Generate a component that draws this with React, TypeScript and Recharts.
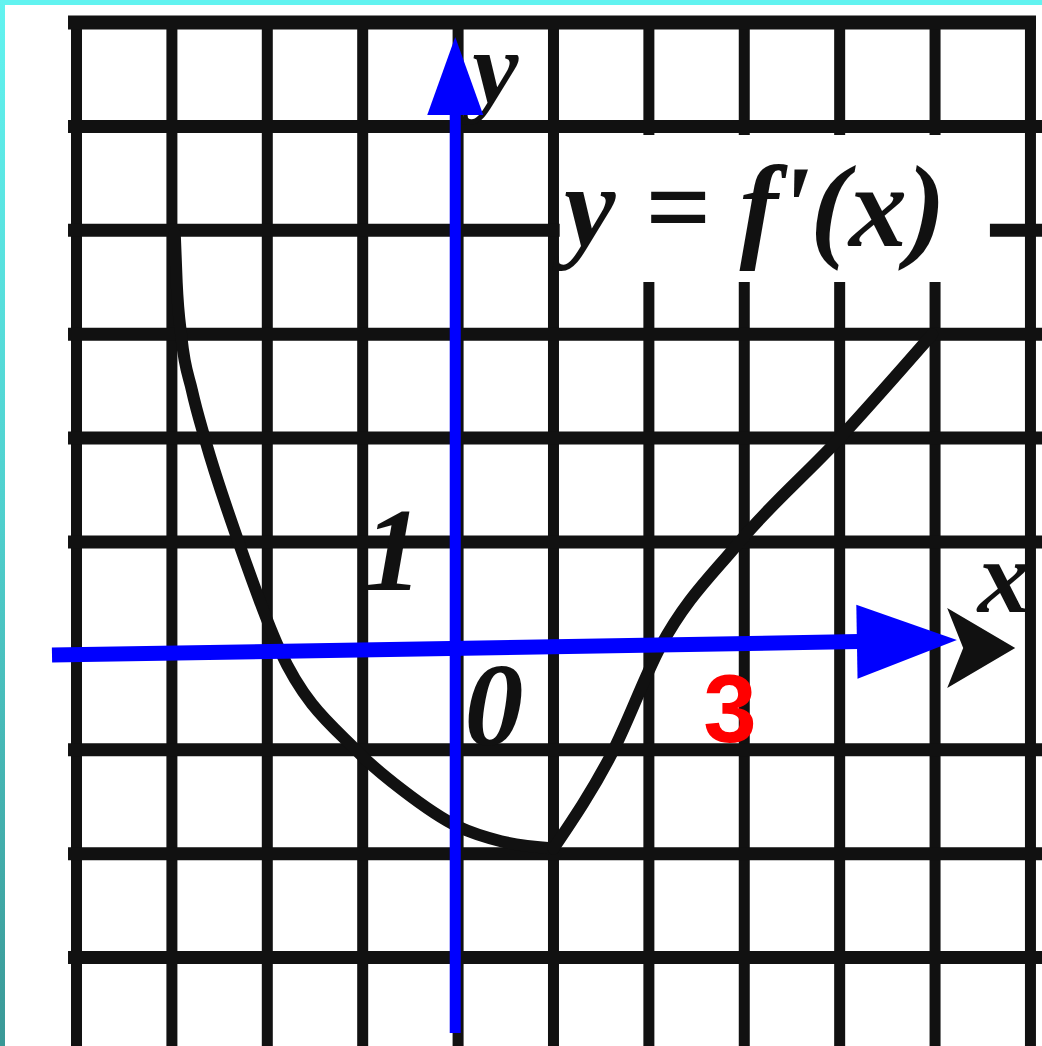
import React from 'react';
import {
  LineChart,
  Line,
  XAxis,
  YAxis,
  ReferenceLine,
  ReferenceDot,
  ReferenceArea,
} from 'recharts';

// Visible window of the coordinate plane (one grid cell = one unit)
const X_DOMAIN: [number, number] = [-4.802, 6.121];
const Y_DOMAIN: [number, number] = [-3.851, 6.217];

// Grid lines of the squared paper
const gridXs = [-4, -3, -2, -1, 0, 1, 2, 3, 4, 5, 6];
const gridYs = [5, 4, 3, 2, 1, -1, -2, -3];
const gridTopY = 6;
const gridLeftX = -4.089;
const gridRightTopX = 6.058;
const gridTopEdgeY = 6.058;

// y = f'(x): descending branch down to the minimum, then the rising branch
const leftBranch = [
  { x: -2.97, y: 3.97 },
  { x: -2.95, y: 3.5 },
  { x: -2.9, y: 2.97 },
  { x: -2.79, y: 2.46 },
  { x: -2.65, y: 1.98 },
  { x: -2.29, y: 0.97 },
  { x: -1.87, y: -0.04 },
  { x: -1.05, y: -1.02 },
  { x: -0.58, y: -1.39 },
  { x: 0, y: -1.74 },
  { x: 0.45, y: -1.88 },
  { x: 1.0, y: -1.95 },
];
const rightBranch = [
  { x: 1.0, y: -1.95 },
  { x: 1.62, y: -1.02 },
  { x: 2.12, y: -0.01 },
  { x: 2.93, y: 0.98 },
  { x: 4.0, y: 2.0 },
  { x: 4.97, y: 3.0 },
];

// Blue coordinate axes drawn over the printed ones
const blueXAxis = [{ x: -4.257, y: -0.088 }, { x: 5.229, y: 0.057 }];
const blueYAxis = [{ x: -0.03, y: -3.726 }, { x: -0.03, y: 5.861 }];

// Text labels
const formulaBox = { x1: 1.065, x2: 5.575, y1: 3.503, y2: 4.917 };
const formulaLabel = { x: 3.11, y: 3.849, text: "y = f'(x)" };
const yAxisLabel = { x: 0.39, y: 5.225, text: 'y' };
const xAxisLabel = { x: 5.72, y: 0.33, text: 'x' };
const unitLabel = { x: -0.683, y: 0.538, text: '1' };
const originLabel = { x: 0.376, y: -0.954, text: '0' };
const markLabel = { x: 2.85, y: -0.925, text: '3' };
const printedArrowTip = { x: 5.84, y: -0.02 };

const SERIF = "'Liberation Serif', 'DejaVu Serif', serif";
const SANS = "'Liberation Sans', Arial, sans-serif";

type ArrowOpts = { color: string; width: number; headLen: number; headHalf: number };

const makeArrow = (o: ArrowOpts) => (p: any) => {
  const { x1, y1, x2, y2 } = p;
  const dx = x2 - x1;
  const dy = y2 - y1;
  const len = Math.sqrt(dx * dx + dy * dy) || 1;
  const ux = dx / len;
  const uy = dy / len;
  const bx = x2 - ux * o.headLen;
  const by = y2 - uy * o.headLen;
  const nx = -uy;
  const ny = ux;
  const pts = [
    `${x2},${y2}`,
    `${bx + nx * o.headHalf},${by + ny * o.headHalf}`,
    `${bx - nx * o.headHalf},${by - ny * o.headHalf}`,
  ].join(' ');
  return (
    <g>
      <line x1={x1} y1={y1} x2={bx + ux * 2} y2={by + uy * 2} stroke={o.color} strokeWidth={o.width} />
      <polygon points={pts} fill={o.color} />
    </g>
  );
};

const makeText = (text: string, style: React.SVGProps<SVGTextElement>) => (p: any) => (
  <text x={p.cx} y={p.cy} textAnchor="middle" {...style}>
    {text}
  </text>
);

const serifItalic = {
  fontFamily: SERIF,
  fontStyle: 'italic' as const,
  fontWeight: 700,
  fill: '#111',
};

const printedArrow = (p: any) => {
  const { cx, cy } = p;
  return (
    <polygon
      points={`${cx},${cy} ${cx - 68},${cy - 40} ${cx - 52},${cy} ${cx - 68},${cy + 40}`}
      fill="#111"
    />
  );
};

export default function App() {
  return (
    <div
      style={{
        position: 'absolute',
        left: 0,
        top: 0,
        width: 1042,
        height: 1046,
        background: '#fff',
        overflow: 'hidden',
      }}
    >
      <LineChart width={1042} height={1046} margin={{ top: 0, right: 0, bottom: 0, left: 0 }}>
        <XAxis type="number" dataKey="x" domain={X_DOMAIN} allowDataOverflow hide />
        <YAxis type="number" dataKey="y" domain={Y_DOMAIN} allowDataOverflow hide />

        {gridXs.map((gx) => (
          <ReferenceLine
            key={`vx${gx}`}
            segment={[{ x: gx, y: Y_DOMAIN[0] }, { x: gx, y: gridTopEdgeY }]}
            stroke="#111"
            strokeWidth={11}
            ifOverflow="visible"
            zIndex={10}
          />
        ))}
        {gridYs.map((gy) => (
          <ReferenceLine
            key={`hy${gy}`}
            segment={[{ x: gridLeftX, y: gy }, { x: X_DOMAIN[1], y: gy }]}
            stroke="#111"
            strokeWidth={13}
            ifOverflow="visible"
            zIndex={10}
          />
        ))}
        <ReferenceLine
          segment={[{ x: gridLeftX, y: gridTopY }, { x: gridRightTopX, y: gridTopY }]}
          stroke="#111"
          strokeWidth={14}
          ifOverflow="visible"
          zIndex={10}
        />

        <ReferenceArea
          x1={formulaBox.x1}
          x2={formulaBox.x2}
          y1={formulaBox.y1}
          y2={formulaBox.y2}
          fill="#fff"
          fillOpacity={1}
          stroke="none"
          ifOverflow="visible"
          zIndex={20}
        />

        <Line
          data={leftBranch}
          dataKey="y"
          type="monotone"
          stroke="#111"
          strokeWidth={12}
          dot={false}
          activeDot={false}
          strokeLinecap="round"
          isAnimationActive={false}
          zIndex={30}
        />
        <Line
          data={rightBranch}
          dataKey="y"
          type="monotone"
          stroke="#111"
          strokeWidth={12}
          dot={false}
          activeDot={false}
          strokeLinecap="round"
          isAnimationActive={false}
          zIndex={30}
        />

        <ReferenceDot
          x={formulaLabel.x}
          y={formulaLabel.y}
          r={0}
          ifOverflow="visible"
          shape={makeText(formulaLabel.text, { ...serifItalic, fontSize: 116 })}
          zIndex={35}
        />
        <ReferenceDot
          x={yAxisLabel.x}
          y={yAxisLabel.y}
          r={0}
          ifOverflow="visible"
          shape={makeText(yAxisLabel.text, { ...serifItalic, fontSize: 104 })}
          zIndex={35}
        />
        <ReferenceDot
          x={unitLabel.x}
          y={unitLabel.y}
          r={0}
          ifOverflow="visible"
          shape={makeText(unitLabel.text, { ...serifItalic, fontSize: 118 })}
          zIndex={35}
        />
        <ReferenceDot
          x={originLabel.x}
          y={originLabel.y}
          r={0}
          ifOverflow="visible"
          shape={makeText(originLabel.text, { ...serifItalic, fontSize: 118 })}
          zIndex={35}
        />
        <ReferenceDot
          x={printedArrowTip.x}
          y={printedArrowTip.y}
          r={0}
          ifOverflow="visible"
          shape={printedArrow}
          zIndex={35}
        />
        <ReferenceDot
          x={xAxisLabel.x}
          y={xAxisLabel.y}
          r={0}
          ifOverflow="visible"
          shape={makeText(xAxisLabel.text, { ...serifItalic, fontSize: 104 })}
          zIndex={35}
        />

        <ReferenceLine
          segment={blueXAxis}
          ifOverflow="visible"
          stroke="#0000ff"
          shape={makeArrow({ color: '#0000ff', width: 15, headLen: 100, headHalf: 37 })}
          zIndex={40}
        />
        <ReferenceLine
          segment={blueYAxis}
          ifOverflow="visible"
          stroke="#0000ff"
          shape={makeArrow({ color: '#0000ff', width: 11, headLen: 78, headHalf: 28 })}
          zIndex={40}
        />

        <ReferenceDot
          x={markLabel.x}
          y={markLabel.y}
          r={0}
          ifOverflow="visible"
          shape={makeText(markLabel.text, {
            fontFamily: SANS,
            fontWeight: 700,
            fontSize: 96,
            fill: '#ff0000',
          })}
          zIndex={50}
        />
      </LineChart>
      <div
        style={{
          position: 'absolute',
          left: 0,
          top: 0,
          width: 1042,
          height: 5,
          background: '#62f3f0',
        }}
      />
      <div
        style={{
          position: 'absolute',
          left: 0,
          top: 0,
          width: 5,
          height: 1046,
          background: 'linear-gradient(#62f3f0, #4fcfcd 50%, #3a9896)',
        }}
      />
    </div>
  );
}
